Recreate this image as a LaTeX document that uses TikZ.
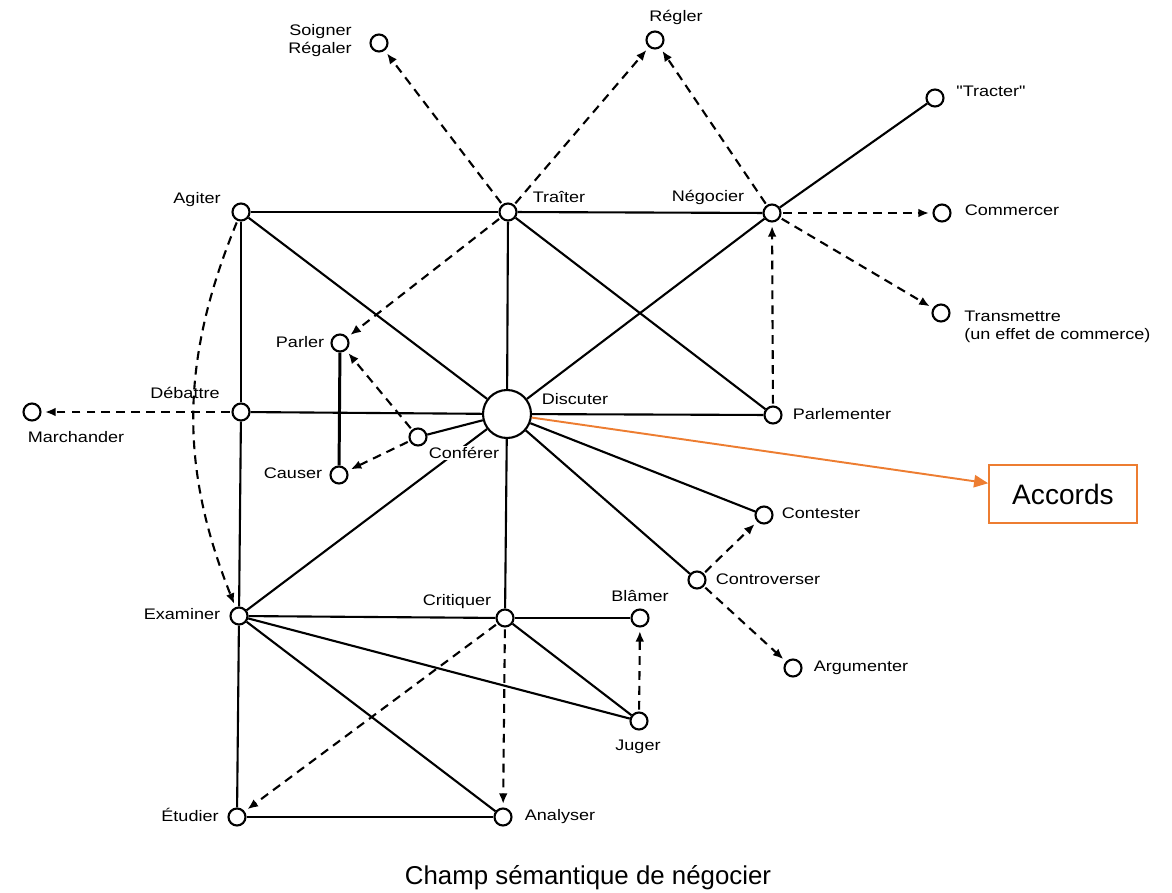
\documentclass[tikz,border=0pt]{standalone}
\usepackage{fontspec}
\setmainfont{Liberation Sans}
\newfontfamily\motfont{Liberation Sans}[FakeStretch=1.18]
\usetikzlibrary{arrows.meta}

\definecolor{orangeaccord}{RGB}{237,125,49}

\tikzset{
	mot/.style = {circle, draw, line width = 1.2pt, fill = white, minimum size = 0.34cm, inner sep = 0pt},
	motcentral/.style = {mot, minimum size = 0.96cm},
	etiq/.style = {font = \motfont\fontsize{8.7}{10.2}\selectfont, inner sep = 0pt},
	lien/.style = {line width = 1.2pt},
	renvoi/.style = {line width = 1.2pt, dash pattern = on 5pt off 3.5pt, -{Latex[length = 6pt, width = 5pt]}, shorten >= 2pt, shorten <= 1pt},
	accordfleche/.style = {line width = 1.1pt, orangeaccord, -{Triangle[length = 8pt, width = 7pt]}},
	accordboite/.style = {draw = orangeaccord, line width = 1pt, fill = white, minimum width = 2.96cm, minimum height = 1.16cm, font = \fontsize{16}{19}\selectfont}
}

\begin{document}
\begin{tikzpicture}[x = 0.02cm, y = -0.02cm]
	\useasboundingbox (0,0) rectangle (1172,892);

	\node [mot] (soigner) at (379,43) {};
	\node [mot] (regler) at (655,40) {};
	\node [mot] (tracter) at (935,98) {};
	\node [mot] (agiter) at (241,212) {};
	\node [mot] (traiter) at (508,212) {};
	\node [mot] (negocier) at (772,213) {};
	\node [mot] (commercer) at (942,213) {};
	\node [mot] (transmettre) at (941,313) {};
	\node [mot] (parler) at (340,343) {};
	\node [mot] (debattre) at (241,412) {};
	\node [mot] (marchander) at (32,412) {};
	\node [motcentral] (discuter) at (507,414) {};
	\node [mot] (parlementer) at (773,415) {};
	\node [mot] (conferer) at (418,437) {};
	\node [mot] (causer) at (339,475) {};
	\node [mot] (contester) at (764,515) {};
	\node [mot] (controverser) at (697,580) {};
	\node [mot] (examiner) at (239,616) {};
	\node [mot] (critiquer) at (505,618) {};
	\node [mot] (blamer) at (640,618) {};
	\node [mot] (argumenter) at (793,668) {};
	\node [mot] (juger) at (639,721) {};
	\node [mot] (etudier) at (237,817) {};
	\node [mot] (analyser) at (503,817) {};
	\node [accordboite] (accords) at (1063,494) {Accords};

	\draw [lien] (agiter) -- (traiter);
	\draw [lien] (traiter) -- (negocier);
	\draw [lien] (agiter) -- (debattre);
	\draw [lien] (debattre) -- (examiner);
	\draw [lien] (examiner) -- (etudier);
	\draw [lien] (agiter) -- (discuter);
	\draw [lien] (traiter) -- (discuter);
	\draw [lien] (discuter) -- (critiquer);
	\draw [lien] (traiter) -- (parlementer);
	\draw [lien] (negocier) -- (discuter);
	\draw [lien] (negocier) -- (tracter);
	\draw [lien] (debattre) -- (discuter);
	\draw [lien] (discuter) -- (parlementer);
	\draw [lien, line width = 1.7pt] (parler) -- (causer);
	\draw [lien] (conferer) -- (discuter);
	\draw [lien] (discuter) -- (examiner);
	\draw [lien] (discuter) -- (contester);
	\draw [lien] (discuter) -- (controverser);
	\draw [lien] (examiner) -- (critiquer);
	\draw [lien] (critiquer) -- (blamer);
	\draw [lien] (examiner) -- (juger);
	\draw [lien] (examiner) -- (analyser);
	\draw [lien] (critiquer) -- (juger);
	\draw [lien] (etudier) -- (analyser);

	\draw [renvoi] (traiter) -- (soigner);
	\draw [renvoi] (traiter) -- (regler);
	\draw [renvoi] (negocier) -- (regler);
	\draw [renvoi] (negocier) -- (commercer);
	\draw [renvoi] (negocier) -- (transmettre);
	\draw [renvoi] (parlementer) -- (negocier);
	\draw [renvoi] (traiter) -- (parler);
	\draw [renvoi] (conferer) -- (parler);
	\draw [renvoi] (conferer) -- (causer);
	\draw [renvoi] (debattre) -- (marchander);
	\draw [renvoi] (agiter) to [bend right = 22] (examiner);
	\draw [renvoi] (controverser) -- (contester);
	\draw [renvoi] (controverser) -- (argumenter);
	\draw [renvoi] (critiquer) -- (etudier);
	\draw [renvoi] (critiquer) -- (analyser);
	\draw [renvoi] (juger) -- (blamer);

	\draw [accordfleche] (discuter) -- (accords);

	\node [etiq, align = right] (t-soigner) at (320,41) {Soigner\\Régaler};
	\node [etiq] (t-regler) at (676,17) {Régler};
	\node [etiq] (t-tracter) at (991,91) {"Tracter"};
	\node [etiq] (t-agiter) at (197,200) {Agiter};
	\node [etiq] (t-traiter) at (559,197) {Traîter};
	\node [etiq] (t-negocier) at (708,197) {Négocier};
	\node [etiq] (t-commercer) at (1012,210) {Commercer};
	\node [etiq, align = left, anchor = west] (t-transmettre) at (964,327) {Transmettre\\(un effet de commerce)};
	\node [etiq] (t-parler) at (300,342) {Parler};
	\node [etiq] (t-debattre) at (185,393) {Débattre};
	\node [etiq] (t-marchander) at (76,437) {Marchander};
	\node [etiq] (t-discuter) at (575,399) {Discuter};
	\node [etiq] (t-parlementer) at (842,414) {Parlementer};
	\node [etiq, fill = white, inner sep = 1pt] (t-conferer) at (464,453) {Conférer};
	\node [etiq] (t-causer) at (293,473) {Causer};
	\node [etiq] (t-contester) at (821,513) {Contester};
	\node [etiq] (t-controverser) at (768,579) {Controverser};
	\node [etiq] (t-examiner) at (182,614) {Examiner};
	\node [etiq] (t-critiquer) at (457,602) {Critiquer};
	\node [etiq] (t-blamer) at (640,596) {Blâmer};
	\node [etiq] (t-argumenter) at (861,668) {Argumenter};
	\node [etiq] (t-juger) at (638,747) {Juger};
	\node [etiq] (t-etudier) at (190,815) {Étudier};
	\node [etiq] (t-analyser) at (560,817) {Analyser};
	\node [font = \fontsize{14.7}{17}\selectfont] (titre) at (588,878) {Champ sémantique de négocier};
\end{tikzpicture}
\end{document}
